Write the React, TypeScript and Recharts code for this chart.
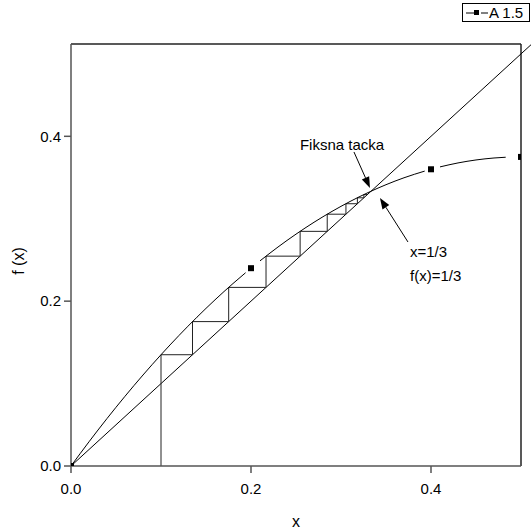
import React from "react";
import { LineChart, Line, XAxis, YAxis, ReferenceLine, ReferenceDot } from "recharts";

// f(x) = 1.5 x (1 - x); split where the line breaks around the markers
const curveX1 = [0, 0.02, 0.04, 0.06, 0.08, 0.1, 0.12, 0.14, 0.16, 0.18, 0.194];
const curveY1 = [0, 0.0294, 0.0576, 0.0846, 0.1104, 0.135, 0.1584, 0.1806, 0.2016, 0.2214, 0.2345];
const curveX2 = [0.21, 0.23, 0.25, 0.27, 0.29, 0.31, 0.33, 0.35, 0.37, 0.393];
const curveY2 = [0.2489, 0.2657, 0.2813, 0.2957, 0.3089, 0.3209, 0.3317, 0.3413, 0.3497, 0.3578];
const curveX3 = [0.41, 0.43, 0.45, 0.47, 0.483];
const curveY3 = [0.3629, 0.3677, 0.3713, 0.3737, 0.3746];

// symbols of series "A 1.5"
const markX = [0, 0.2, 0.4, 0.5];
const markY = [0, 0.24, 0.36, 0.375];

// y = x diagonal, runs a little past the frame
const diagX = [0, 0.512];
const diagY = [0, 0.512];

// cobweb staircase starting at x = 0.1
const cobX = [0.1, 0.1, 0.135, 0.135, 0.1752, 0.1752, 0.2167, 0.2167, 0.2546, 0.2546, 0.2847, 0.2847, 0.3055, 0.3055, 0.3182, 0.3182, 0.3254, 0.3254, 0.3293];
const cobY = [0, 0.135, 0.135, 0.1752, 0.1752, 0.2167, 0.2167, 0.2546, 0.2546, 0.2847, 0.2847, 0.3055, 0.3055, 0.3182, 0.3182, 0.3254, 0.3254, 0.3293, 0.3293];

const xTicks = [0, 0.2, 0.4];
const yTicks = [0, 0.2, 0.4];
const X_MAX = 0.5;
const Y_MAX = 0.512;

const FONT = "'Liberation Sans', Arial, sans-serif";

function toPoints(xs: number[], ys: number[]) {
  return xs.map((x, i) => ({ x, y: ys[i] }));
}

function Arrow(props: any) {
  const { x1, y1, x2, y2 } = props;
  const ang = Math.atan2(y2 - y1, x2 - x1);
  const len = 11;
  const w = 4;
  const bx = x2 - len * Math.cos(ang);
  const by = y2 - len * Math.sin(ang);
  const px = -Math.sin(ang) * w;
  const py = Math.cos(ang) * w;
  return (
    <g>
      <line x1={x1} y1={y1} x2={bx} y2={by} stroke="#000" strokeWidth={1} />
      <polygon points={`${x2},${y2} ${bx + px},${by + py} ${bx - px},${by - py}`} fill="#000" />
    </g>
  );
}

function Plain(props: any) {
  const { x1, y1, x2, y2 } = props;
  return <line x1={x1} y1={y1} x2={x2} y2={y2} stroke="#000" strokeWidth={1} />;
}

function Note({ text }: { text: string }) {
  return (props: any) => (
    <text x={props.cx} y={props.cy} fontFamily={FONT} fontSize={15} fill="#000">
      {text}
    </text>
  );
}

function Square(props: any) {
  const { cx, cy, index } = props;
  return <rect key={index} x={cx - 3} y={cy - 3} width={6} height={6} fill="#000" />;
}

function YTitle(props: any) {
  const { x, y, height } = props.viewBox;
  const cx = x + 18;
  const cy = y + height / 2 + 6;
  return (
    <text
      x={cx}
      y={cy}
      transform={`rotate(-90 ${cx} ${cy})`}
      textAnchor="middle"
      dominantBaseline="central"
      fontFamily={FONT}
      fontSize={16}
      fill="#000"
    >
      f (x)
    </text>
  );
}

export default function App() {
  return (
    <div style={{ position: "absolute", left: 0, top: 0, width: 531, height: 531, background: "#fff" }}>
      <LineChart width={531} height={531} margin={{ top: 44, right: 10, bottom: 0, left: 0 }}>
        <XAxis
          type="number"
          dataKey="x"
          domain={[0, X_MAX]}
          ticks={xTicks}
          tickFormatter={(v) => v.toFixed(1)}
          height={65}
          tickSize={7}
          tickMargin={10}
          stroke="#555"
          strokeWidth={1.5}
          tick={{ fill: "#000", fontSize: 15, fontFamily: FONT }}
          allowDataOverflow
          label={{ value: "x", position: "insideBottom", offset: 4, fill: "#000", fontSize: 16, fontFamily: FONT }}
        />
        <YAxis
          type="number"
          dataKey="y"
          domain={[0, Y_MAX]}
          ticks={yTicks}
          tickFormatter={(v) => v.toFixed(1)}
          width={71}
          tickSize={7}
          tickMargin={3}
          stroke="#555"
          strokeWidth={1.5}
          tick={{ fill: "#000", fontSize: 15, fontFamily: FONT }}
          allowDataOverflow
          label={<YTitle />}
        />
        <ReferenceLine y={Y_MAX} stroke="#222" strokeWidth={1.5} />
        <ReferenceLine x={X_MAX} stroke="#222" strokeWidth={1.5} />

        <ReferenceLine segment={toPoints(diagX, diagY)} ifOverflow="visible" shape={<Plain />} />
        <Line data={toPoints(cobX, cobY)} dataKey="y" type="linear" stroke="#222" strokeWidth={1} dot={false} isAnimationActive={false} />
        <Line data={toPoints(curveX1, curveY1)} dataKey="y" type="monotone" stroke="#000" strokeWidth={1} dot={false} isAnimationActive={false} />
        <Line data={toPoints(curveX2, curveY2)} dataKey="y" type="monotone" stroke="#000" strokeWidth={1} dot={false} isAnimationActive={false} />
        <Line data={toPoints(curveX3, curveY3)} dataKey="y" type="monotone" stroke="#000" strokeWidth={1} dot={false} isAnimationActive={false} />
        <Line data={toPoints(markX, markY)} dataKey="y" stroke="none" dot={<Square />} isAnimationActive={false} />

        <ReferenceLine segment={[{ x: 0.3144, y: 0.381 }, { x: 0.3322, y: 0.3374 }]} shape={<Arrow />} />
        <ReferenceLine segment={[{ x: 0.3744, y: 0.2718 }, { x: 0.3433, y: 0.3252 }]} shape={<Arrow />} />
        <ReferenceDot x={0.2544} y={0.3835} r={0} shape={Note({ text: "Fiksna tacka" })} />
        <ReferenceDot x={0.3767} y={0.2536} r={0} shape={Note({ text: "x=1/3" })} />
        <ReferenceDot x={0.3767} y={0.2245} r={0} shape={Note({ text: "f(x)=1/3" })} />
      </LineChart>
      <div
        style={{
          position: "absolute",
          left: 462,
          top: 3,
          width: 66,
          height: 17,
          border: "1px solid #000",
          display: "flex",
          alignItems: "center",
          whiteSpace: "nowrap",
          overflow: "hidden",
          fontFamily: FONT,
          fontSize: 15,
          lineHeight: "17px",
          background: "#fff",
        }}
      >
        <svg width={26} height={17} style={{ display: "block", flex: "none" }}>
          <line x1={3} y1={9} x2={11} y2={9} stroke="#000" strokeWidth={1} />
          <rect x={11} y={6} width={5} height={5} fill="#000" />
          <line x1={18} y1={9} x2={25} y2={9} stroke="#000" strokeWidth={1} />
        </svg>
        <span>A 1.5</span>
      </div>
    </div>
  );
}
